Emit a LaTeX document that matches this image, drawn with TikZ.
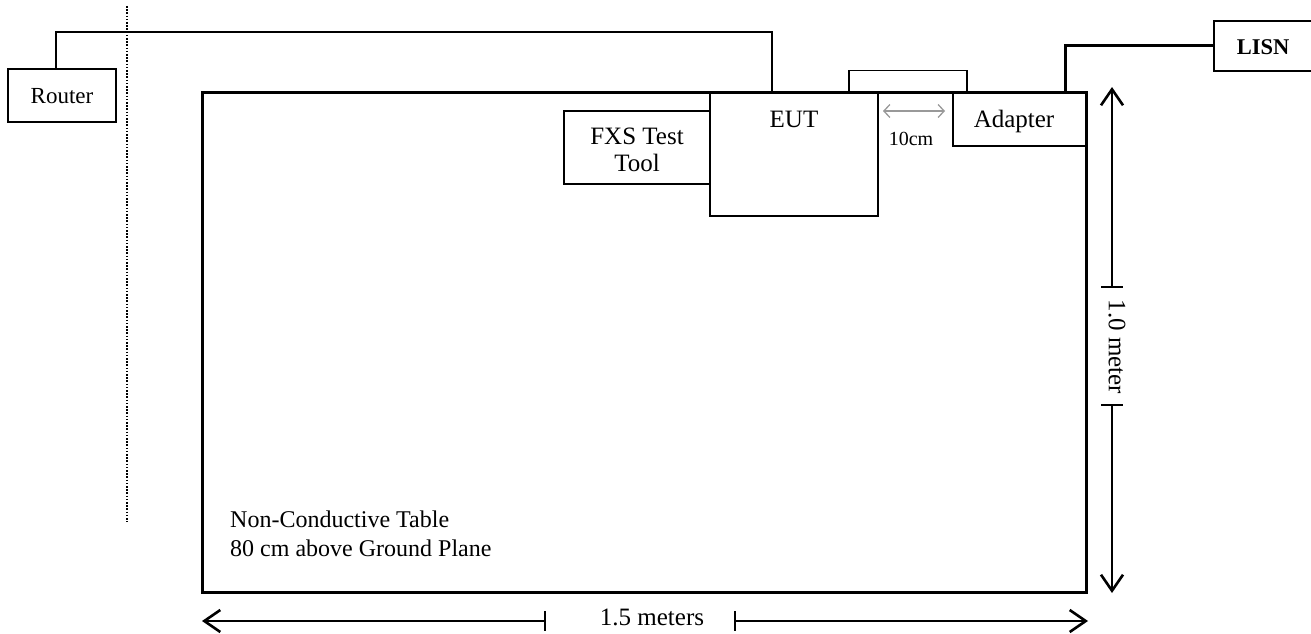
\documentclass[tikz,border=0pt]{standalone}
\usepackage{fontspec}
\setmainfont{Liberation Serif}
\usetikzlibrary{arrows.meta}
\begin{document}
\begin{tikzpicture}[x=1pt,y=-1pt,
  box/.style={draw, line width=1.5pt, inner sep=0pt},
  txt/.style={font=\fontsize{25}{27}\selectfont, inner sep=0pt},
  cable/.style={line width=1.5pt},
  heavycable/.style={line width=3pt},
  dimline/.style={line width=1.3pt},
  dimtip/.style={-{Straight Barb[length=16pt,width=22pt,line width=2.6pt]}},
  tick/.style={line width=1.3pt},
  gap/.style={draw=gray!80, line width=1.3pt, {Straight Barb[length=6pt,width=13pt]}-{Straight Barb[length=6pt,width=13pt]}}
]
\useasboundingbox (0,0) rectangle (1311,634);

% table
\node[draw, line width=3.5pt, minimum width=884, minimum height=500, inner sep=0pt] (table) at (644.5,342.5) {};
\node[txt, align=left, anchor=west, font=\fontsize{24}{29}\selectfont] (tabletext) at (230,534) {Non-Conductive Table\\80 cm above Ground Plane};

% dotted boundary
\coordinate (dt) at (127,6);
\coordinate (db) at (127,522);
\draw[line width=1.2pt, dash pattern=on 1.6pt off 1.6pt] (dt) -- (db);

% boxes
\node[box, minimum width=108, minimum height=53] (router) at (62,95.5) {};
\node[txt, font=\fontsize{23}{25}\selectfont] (routertext) at (62,96) {Router};

\node[box, minimum width=168, minimum height=123, fill=white] (eut) at (794,154.5) {};
\node[txt] (euttext) at (794,119) {EUT};

\node[box, minimum width=146, minimum height=73] (fxs) at (637,147.5) {};
\node[txt, align=center, font=\fontsize{25}{27}\selectfont] (fxstext) at (637,150) {FXS Test\\Tool};

\node[box, minimum width=134, minimum height=54] (adapter) at (1020,119) {};
\node[txt] (adaptertext) at (1014,121) {Adapter};

\node[box, minimum width=98, minimum height=50] (lisn) at (1263,46) {};
\node[txt, font=\bfseries\fontsize{22.5}{24}\selectfont] (lisntext) at (1263,47) {LISN};

% cables
\draw[cable] ([xshift=-6]router.north) -- ++(0,-36) -| ([xshift=-22]eut.north);
\draw[cable] ([xshift=55]eut.north) -- ++(0,-22) -| ([xshift=-53]adapter.north);
\draw[heavycable] ([xshift=45]adapter.north) |- (lisn.west);

% 10 cm gap
\coordinate (g1) at (883,111);
\coordinate (g2) at (945,111);
\draw[gap] (g1) -- (g2);
\node[txt, font=\fontsize{20}{22}\selectfont] (gaptext) at (911,139) {10cm};

% vertical dimension
\coordinate (vt) at (1112,87);
\coordinate (vb) at (1112,593);
\coordinate (vk1) at (1112,287);
\coordinate (vk2) at (1112,405);
\draw[dimline, dimtip] (vk1) -- (vt);
\draw[dimline, dimtip] (vk2) -- (vb);
\draw[tick] ([xshift=-11]vk1) -- ([xshift=11]vk1);
\draw[tick] ([xshift=-11]vk2) -- ([xshift=11]vk2);
\node[txt, rotate=-90] (vtext) at (1117,347) {1.0 meter};

% horizontal dimension
\coordinate (hl) at (202,621);
\coordinate (hr) at (1088,621);
\coordinate (hk1) at (545,621);
\coordinate (hk2) at (735,621);
\draw[dimline, dimtip] (hk1) -- (hl);
\draw[dimline, dimtip] (hk2) -- (hr);
\draw[tick] ([yshift=10]hk1) -- ([yshift=-10]hk1);
\draw[tick] ([yshift=10]hk2) -- ([yshift=-10]hk2);
\node[txt] (htext) at (652,617) {1.5 meters};
\end{tikzpicture}
\end{document}
